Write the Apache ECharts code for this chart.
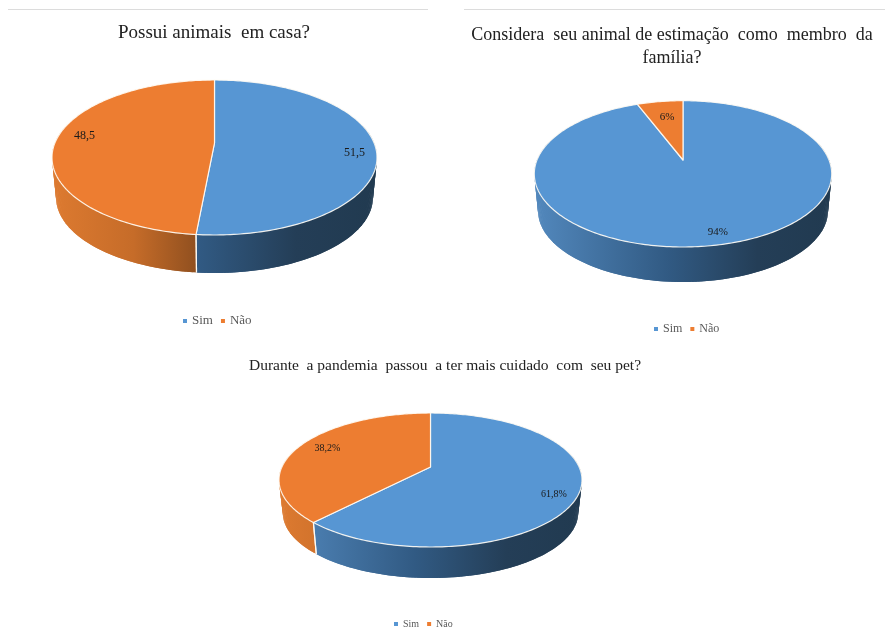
<!DOCTYPE html>
<html>
<head>
<meta charset="utf-8">
<style>html,body{margin:0;padding:0;background:#fff}#c{width:885px;height:630px}</style>
<script src="https://cdn.jsdelivr.net/npm/echarts@6/dist/echarts.min.js"></script>
</head>
<body>
<div id="c"></div>
<script>
const categories = ['Sim', 'Não'];
const homeValues = [51.5, 48.5];
const familyValues = [94, 6];
const careValues = [61.8, 38.2];
const titles = [
  'Possui animais  em casa?',
  'Considera  seu animal de estimação  como  membro  da\nfamília?',
  'Durante  a pandemia  passou  a ter mais cuidado  com  seu pet?'
];
const labelSuffix = ['', '%', '%'];

const FONT = '"Liberation Serif","Times New Roman",serif';
const TOP_COLORS = ['#5796d3', '#ed7d31'];
const WALL_STOPS = [
  [[0, '#5288bd'], [0.45, '#315a83'], [0.75, '#243e57'], [1, '#213a50']],
  [[0, '#dd7a30'], [0.25, '#c66c29'], [0.45, '#8f4f1f'], [1, '#70401a']]
];
// cx, rx: ellipse centre and half width; apexY, topY, botY: vertical landmarks
// depth: wall height; labelAt: label position as fraction of rx / ry from the apex
const layouts = [
  { values: homeValues, cx: 214.5, rx: 162.5, apexY: 143, topY: 80, botY: 235, depth: 38, labelSize: 12,
    labelAt: [[0.862, 0.13], [-0.80, -0.09]],
    title: { x: 214, y: 33, size: 19 }, legend: { x: 183, y: 321, size: 13 } },
  { values: familyValues, cx: 683, rx: 148.7, apexY: 160, topY: 100.7, botY: 247, depth: 35, labelSize: 11,
    labelAt: [[0.235, 0.99], [-0.107, -0.59]],
    title: { x: 672, y: 35, size: 18 }, legend: { x: 654, y: 329, size: 12 } },
  { values: careValues, cx: 430.5, rx: 151.5, apexY: 467, topY: 413, botY: 547, depth: 31, labelSize: 10,
    labelAt: [[0.815, 0.405], [-0.68, -0.28]],
    title: { x: 445, y: 366, size: 15.5 }, legend: { x: 394, y: 624, size: 10 } }
];

function projector(p) {
  const ratio = (p.apexY - p.topY) / (p.botY - p.apexY);
  const k = (ratio - 1) / (ratio + 1);
  const ryp = (p.apexY - p.topY) * (1 - k);
  const rxp = p.rx * Math.sqrt(1 - k * k);
  const midY = (p.topY + p.botY) / 2;
  const ry = (p.botY - p.topY) / 2;
  const b = 0.975;
  const off = p.depth + ry * (1 - b);
  return {
    top(a) {
      const u = Math.sin(a), v = -Math.cos(a), s = 1 / (1 + k * v);
      return [p.cx + rxp * u * s, p.apexY + ryp * v * s];
    },
    bottom(a) {
      const t = this.top(a);
      return [p.cx + b * (t[0] - p.cx), midY + b * (t[1] - midY) + off];
    },
    ry
  };
}

function makeRender(p, idx) {
  const pr = projector(p);
  return function (params, api) {
    const value = api.value(0), before = api.value(1), total = api.value(2);
    const a0 = before / total * 2 * Math.PI;
    const a1 = (before + value) / total * 2 * Math.PI;
    const n = Math.max(8, Math.round((a1 - a0) / (2 * Math.PI) * 360));
    const topArc = [], botArc = [], angles = [];
    for (let i = 0; i <= n; i++) {
      const a = a0 + (a1 - a0) * i / n;
      angles.push(a);
      topArc.push(pr.top(a));
      botArc.push(pr.bottom(a));
    }
    const fill = new echarts.graphic.LinearGradient(
      p.cx - p.rx, 0, p.cx + p.rx, 0,
      WALL_STOPS[idx].map(s => ({ offset: s[0], color: s[1] })), true);
    const edge = 'rgba(255,252,245,0.9)';
    const apex = [p.cx, p.apexY];
    const at = p.labelAt[idx];
    const children = [];
    // wall: overlapping quads between the rim and the lower rim, front part only
    for (let i = 0; i < n; i++) {
      if (-Math.cos(angles[i]) < -0.25 && -Math.cos(angles[i + 1]) < -0.25) continue;
      const j = Math.min(n, i + 2);
      children.push({ type: 'polygon', z2: 1, silent: true,
        shape: { points: [topArc[i], topArc[j], botArc[j], botArc[i]] },
        style: { fill: fill } });
    }
    children.push(
      { type: 'line', z2: 2, silent: true,
        shape: { x1: topArc[0][0], y1: topArc[0][1], x2: botArc[0][0], y2: botArc[0][1] },
        style: { stroke: edge, lineWidth: 1.2 } },
      { type: 'line', z2: 2, silent: true,
        shape: { x1: topArc[n][0], y1: topArc[n][1], x2: botArc[n][0], y2: botArc[n][1] },
        style: { stroke: edge, lineWidth: 1.2 } },
      { type: 'polygon', z2: 3, silent: true,
        shape: { points: [apex].concat(topArc) },
        style: { fill: TOP_COLORS[idx], stroke: edge, lineWidth: 1.2, lineJoin: 'round' } },
      { type: 'text', z2: 5, silent: true,
        style: {
          x: p.cx + at[0] * p.rx, y: p.apexY + at[1] * pr.ry,
          text: String(value).replace('.', ',') + labelSuffix[layouts.indexOf(p)],
          font: p.labelSize + 'px ' + FONT, fill: '#1a1a1a',
          align: 'center', verticalAlign: 'middle'
        } }
    );
    return { type: 'group', children };
  };
}

const series = [];
layouts.forEach(p => {
  const total = p.values.reduce((s, v) => s + v, 0);
  let before = 0;
  p.values.forEach((v, idx) => {
    series.push({
      type: 'custom', name: categories[idx], coordinateSystem: 'none', silent: true,
      animation: false, itemStyle: { color: TOP_COLORS[idx] },
      renderItem: makeRender(p, idx),
      data: [[v, before, total]]
    });
    before += v;
  });
});

const option = {
  backgroundColor: '#fff',
  animation: false,
  title: layouts.map((p, i) => ({
    text: titles[i], left: p.title.x, top: p.title.y - Math.round(p.title.size * 1.3) / 2,
    textAlign: 'center', padding: 0,
    textStyle: { fontFamily: FONT, fontWeight: 'normal', fontSize: p.title.size, color: '#222',
      lineHeight: Math.round(p.title.size * 1.3) }
  })),
  legend: layouts.map(p => ({
    data: categories.map((c, idx) => ({ name: c, itemStyle: { color: TOP_COLORS[idx] } })),
    left: p.legend.x, top: p.legend.y - 7, padding: 0,
    icon: 'rect', itemWidth: 4, itemHeight: 4, itemGap: 8, selectedMode: false,
    textStyle: { fontFamily: FONT, fontSize: p.legend.size, color: '#595959', lineHeight: 14 }
  })),
  graphic: [
    { type: 'line', silent: true, shape: { x1: 8, y1: 9.5, x2: 428, y2: 9.5 }, style: { stroke: '#dcdcdc', lineWidth: 1 } },
    { type: 'line', silent: true, shape: { x1: 464, y1: 9.5, x2: 885, y2: 9.5 }, style: { stroke: '#dcdcdc', lineWidth: 1 } }
  ],
  series: series
};
echarts.init(document.getElementById('c'), null, { renderer: 'canvas' }).setOption(option);
</script>
</body>
</html>
